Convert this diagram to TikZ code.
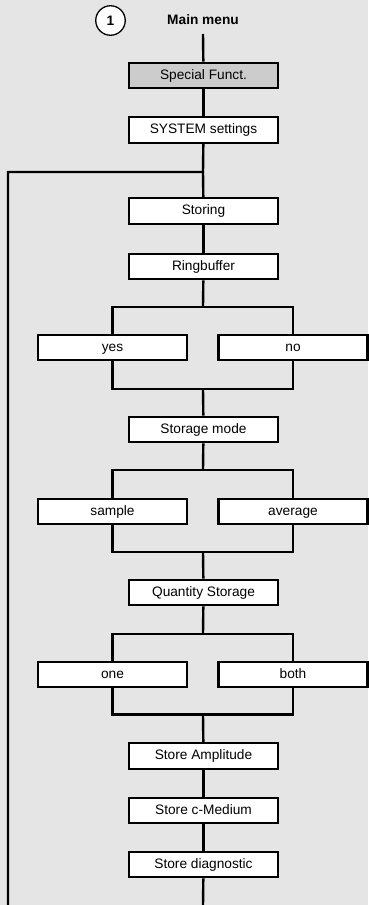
\documentclass[tikz,border=0pt]{standalone}
\usepackage{fontspec}
\setmainfont{Liberation Sans}
\definecolor{bg}{HTML}{E5E5E5}
\definecolor{hl}{HTML}{CCCCCC}
\begin{document}
\begin{tikzpicture}[x=1pt,y=-1pt,
  box/.style={draw=black,fill=white,line width=2.4pt,rectangle,minimum width=149pt,minimum height=25.5pt,inner sep=0pt,text height=10pt,text depth=2.6pt,font=\fontsize{13.7}{16}\selectfont},
  conn/.style={draw=black,line width=2.4pt,line join=miter}]
\fill[bg] (0,0) rectangle (368,905);
\useasboundingbox (0,0) rectangle (368,905);
\node[draw=black,fill=white,circle,line width=1.3pt,minimum size=29.5pt,inner sep=0pt,text height=10pt,text depth=0pt,font=\fontsize{13.7}{16}\selectfont\bfseries] (one1) at (110.5,20.5) {1};
\node[font=\fontsize{13.7}{16}\selectfont\bfseries,text height=10pt,text depth=2.6pt,inner sep=0pt] (mm) at (203,20.5) {Main menu};
\coordinate (top) at (203,34);
\node[box,fill=hl] (sp) at (203.5,75.5) {Special Funct.};
\node[box] (sys) at (203.5,130) {SYSTEM settings};
\coordinate (br) at (203,172);
\coordinate (lb) at (8,172);
\coordinate (lbend) at (8,906);
\node[box] (sto) at (203.5,211) {Storing};
\node[box] (ring) at (203.5,266.5) {Ringbuffer};
\coordinate (f1) at (203,306.7);
\node[box] (yes) at (112.5,347.5) {yes};
\node[box] (no) at (293,347.5) {no};
\coordinate (j1) at (203,388.7);
\node[box] (sm) at (203.5,429.5) {Storage mode};
\coordinate (f2) at (203,470);
\node[box] (sample) at (112.5,511.5) {sample};
\node[box] (avg) at (293,511.5) {average};
\coordinate (j2) at (203,551.7);
\node[box] (qs) at (203.5,592.5) {Quantity Storage};
\coordinate (f3) at (203,634);
\node[box] (oneb) at (112.5,674.5) {one};
\node[box] (both) at (293,674.5) {both};
\coordinate (j3) at (203,714.3);
\node[box] (amp) at (203.5,756) {Store Amplitude};
\node[box] (cmed) at (203.5,810.5) {Store c-Medium};
\node[box] (diag) at (203.5,864.5) {Store diagnostic};
\coordinate (bot) at (203,906);
\draw[conn] (top) -- (sp);
\draw[conn] (sp) -- (sys);
\draw[conn] (sys) -- (br) -- (lb) -- (lbend);
\draw[conn] (br) -- (sto);
\draw[conn] (sto) -- (ring);
\draw[conn] (ring) -- (f1);
\draw[conn] (yes.north) |- (f1) -| (no.north);
\draw[conn] (yes.south) |- (j1) -| (no.south);
\draw[conn] (j1) -- (sm);
\draw[conn] (sm) -- (f2);
\draw[conn] (sample.north) |- (f2) -| (avg.north);
\draw[conn] (sample.south) |- (j2) -| (avg.south);
\draw[conn] (j2) -- (qs);
\draw[conn] (qs) -- (f3);
\draw[conn] (oneb.north) |- (f3) -| (both.north);
\draw[conn] (oneb.south) |- (j3) -| (both.south);
\draw[conn] (j3) -- (amp);
\draw[conn] (amp) -- (cmed);
\draw[conn] (cmed) -- (diag);
\draw[conn] (diag) -- (bot);
\end{tikzpicture}
\end{document}
